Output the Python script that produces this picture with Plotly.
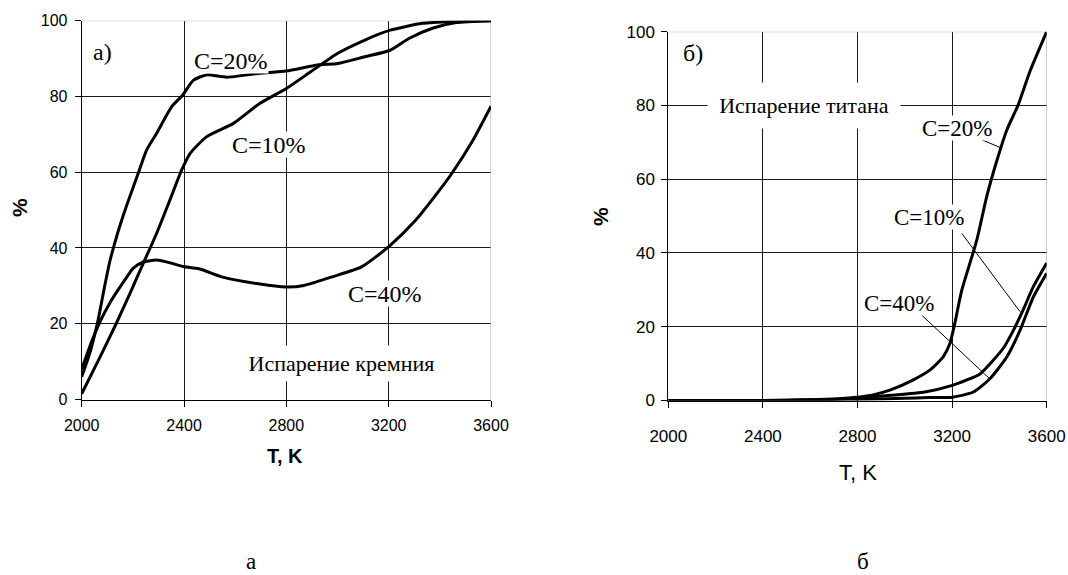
import plotly.graph_objects as go

W, H = 1068, 575

# ---- Silicon evaporation (panel a) ----
T_si_10 = [2000, 2070, 2136, 2188, 2241, 2293, 2345, 2391, 2424, 2489, 2593, 2697,
           2800, 2895, 3001, 3107, 3206, 3332, 3450, 3600]
si_10 = [1.5, 11, 20.2, 27.9, 36, 43.9, 52.7, 60.6, 65, 69.4, 72.9, 78.2,
         82.1, 86.5, 91.4, 94.9, 97.5, 99.3, 99.8, 100]

T_si_20 = [2000, 2035, 2064, 2090, 2110, 2130, 2150, 2176, 2221, 2254, 2293, 2352, 2395,
           2437, 2489, 2567, 2697, 2800, 2922, 3001, 3107, 3206, 3279, 3371, 3464, 3600]
si_20 = [6, 13, 21, 30, 36.5, 41.5, 46, 51.3, 59.7, 65.9, 70.3, 77.3, 80.4,
         84.3, 85.7, 85.1, 86.1, 86.7, 88.3, 88.7, 90.5, 92.2, 95.3, 98, 99.5, 100]

T_si_40 = [2000, 2040, 2075, 2110, 2141, 2175, 2202, 2241, 2293, 2350, 2397, 2459,
           2551, 2684, 2800, 2869, 2975, 3094, 3206, 3305, 3398, 3450, 3530, 3600]
si_40 = [8, 15.5, 21, 25.5, 28.8, 32.2, 34.7, 36.3, 36.8, 36, 35.1, 34.5,
         32.3, 30.6, 29.7, 30.1, 32.3, 35, 40.7, 47.3, 55.2, 60, 68.5, 77.4]

# ---- Titanium evaporation (panel б) ----
T_ti_20 = [2000, 2400, 2600, 2720, 2797, 2870, 2937, 3036, 3107, 3163, 3191, 3210,
           3241, 3304, 3346, 3389, 3431, 3479, 3529, 3600]
ti_20 = [0, 0, 0.2, 0.5, 0.9, 1.6, 2.8, 5.6, 8.3, 11.9, 15.5, 20.5,
         29.9, 43.4, 55.2, 65, 73.3, 80.1, 89.2, 100]

T_ti_10 = [2000, 2400, 2700, 2800, 2940, 3085, 3201, 3260, 3318, 3374, 3420, 3459,
           3500, 3543, 3600]
ti_10 = [0, 0, 0.3, 0.7, 1.4, 2.3, 4.1, 5.5, 7.2, 10.9, 14.5, 19,
         24.5, 30.8, 37.3]

T_ti_40 = [2000, 2400, 2800, 3000, 3100, 3201, 3290, 3360, 3431, 3487, 3543, 3600]
ti_40 = [0, 0, 0.3, 0.6, 0.8, 0.9, 2.3, 5.9, 11.8, 19, 28, 34.5]

x_ticks = [2000, 2400, 2800, 3200, 3600]
y_ticks = [0, 20, 40, 60, 80, 100]

SERIF = "Liberation Serif"
SANS = "Liberation Sans"
GRID = "#1a1a1a"
FRAME = "#a8a8a8"

fig = go.Figure()

line_style = dict(color="black", width=3, shape="spline", smoothing=0.6)
for T, v in [(T_si_20, si_20), (T_si_10, si_10), (T_si_40, si_40)]:
    fig.add_trace(go.Scatter(x=T, y=v, mode="lines", line=line_style,
                             xaxis="x", yaxis="y", showlegend=False, hoverinfo="skip"))
for T, v in [(T_ti_20, ti_20), (T_ti_10, ti_10), (T_ti_40, ti_40)]:
    fig.add_trace(go.Scatter(x=T, y=v, mode="lines", line=line_style,
                             xaxis="x2", yaxis="y2", showlegend=False, hoverinfo="skip"))


def px_x(p):
    return p / W


def px_y(p):
    return 1 - p / H


def axis_common(size, standoff):
    return dict(
        showgrid=True, gridcolor=GRID, gridwidth=1,
        showline=True, linecolor="black", linewidth=1,
        ticks="outside", ticklen=6, tickcolor="black", tickwidth=1,
        tickfont=dict(family=SANS, size=size, color="black"),
        ticklabelstandoff=standoff,
        zeroline=False, fixedrange=True, automargin=False,
    )


fig.update_layout(
    template="none",
    width=W, height=H,
    margin=dict(l=0, r=0, t=0, b=0),
    paper_bgcolor="white", plot_bgcolor="white",
    xaxis=dict(domain=[px_x(81.7), px_x(491)], range=[2000, 3600], tickvals=x_ticks,
               anchor="y", **axis_common(16, 5)),
    yaxis=dict(domain=[px_y(399.5), px_y(20.7)], range=[0, 100], tickvals=y_ticks,
               anchor="x", **axis_common(16, 4)),
    xaxis2=dict(domain=[px_x(668.3), px_x(1046.7)], range=[2000, 3600], tickvals=x_ticks,
                anchor="y2", **axis_common(17, 14)),
    yaxis2=dict(domain=[px_y(400.5), px_y(31.7)], range=[0, 100], tickvals=y_ticks,
                anchor="x2", **axis_common(17, 3)),
)

shapes = []
# light frame on top and right sides of each plot area
for xr, yr in [("x", "y"), ("x2", "y2")]:
    shapes.append(dict(type="line", xref=xr, yref=yr, x0=2000, x1=3600, y0=100, y1=100,
                       line=dict(color=FRAME, width=1), layer="between"))
    shapes.append(dict(type="line", xref=xr, yref=yr, x0=3600, x1=3600, y0=0, y1=100,
                       line=dict(color=FRAME, width=1), layer="between"))

# leader lines from labels to the titanium curves
leaders = [((3318, 70.9), (3407, 68.5)),
           ((3241, 45.3), (3487, 24.1)),
           ((3064, 23.6), (3357, 6.0))]
for (x0, y0), (x1, y1) in leaders:
    shapes.append(dict(type="line", xref="x2", yref="y2", x0=x0, y0=y0, x1=x1, y1=y1,
                       line=dict(color="black", width=1)))
fig.update_layout(shapes=shapes)

ann = []


def label(text, x, y, xr, yr, size=20, family=SERIF, bg=None, **kw):
    d = dict(text=text, x=x, y=y, xref=xr, yref=yr, showarrow=False,
             font=dict(family=family, size=size, color="black"),
             xanchor="center", yanchor="middle")
    if bg:
        d["bgcolor"] = bg
    d.update(kw)
    ann.append(d)


# panel a labels
label("а)", 2083, 91.7, "x", "y", size=24)
label("C=20%", 2584, 89.4, "x", "y", size=24, bg="white", borderpad=0, height=24)
label("C=10%", 2733, 67.4, "x", "y", size=24, bg="white", borderpad=0, height=25)
label("C=40%", 3187, 28.1, "x", "y", size=24, bg="white", borderpad=0, height=25)
label("Испарение кремния", 3014, 9.6, "x", "y", size=22, bg="white",
      width=205, height=33, borderpad=1)

# panel б labels
label("б)", 2103, 94.2, "x2", "y2", size=24)
label("Испарение титана", 2573, 80, "x2", "y2", size=22, bg="white",
      width=190, height=43, borderpad=1)
label("C=20%", 3221, 73.9, "x2", "y2", size=23, bg="white", borderpad=0, height=24)
label("C=10%", 3102, 49.8, "x2", "y2", size=23, bg="white", borderpad=0, height=24)
label("C=40%", 2975, 26.5, "x2", "y2", size=23, bg="white", borderpad=0, height=24)

# axis titles
label("<b>T, K</b>", px_x(285), px_y(456), "paper", "paper", size=20, family=SANS)
label("T, K", px_x(858), px_y(472), "paper", "paper", size=22, family=SANS)
label("<b>%</b>", px_x(20), px_y(208), "paper", "paper", size=21, family=SANS, textangle=-90)
label("<b>%</b>", px_x(600), px_y(217), "paper", "paper", size=21, family=SANS, textangle=-90)

# panel captions
label("а", px_x(251), px_y(561), "paper", "paper", size=23, borderpad=0, height=26)
label("б", px_x(863), px_y(561), "paper", "paper", size=23, borderpad=0, height=26)

fig.update_layout(annotations=ann)

fig.write_html("out.html")
